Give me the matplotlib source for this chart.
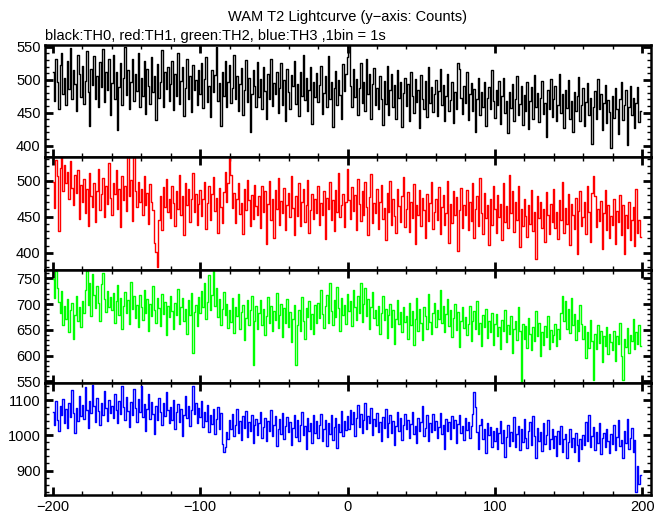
import numpy as np
import matplotlib.pyplot as plt
from matplotlib.ticker import MultipleLocator

plt.rcParams['font.family'] = ['Liberation Sans', 'DejaVu Sans']

# time bins (1 s), -200 .. 199
time = np.arange(-200, 200)

# counts per bin, rows of 20 bins
th0 = [
    512, 468, 531, 497, 455, 522, 540, 478, 503, 461, 529, 486, 548, 470, 515, 493, 452, 537, 509, 474,
    521, 463, 498, 544, 481, 429, 517, 492, 536, 470, 505, 458, 527, 489, 547, 466, 511, 484, 532, 446,
    495, 538, 471, 512, 423, 489, 526, 462, 503, 549, 477, 514, 455, 496, 531, 468, 508, 483, 541, 459,
    502, 475, 529, 448, 517, 490, 463, 535, 481, 506, 439, 524, 472, 497, 545, 458, 511, 486, 520, 467,
    493, 528, 454, 509, 476, 540, 463, 498, 519, 445, 487, 532, 470, 505, 451, 523, 484, 500, 461, 514,
    479, 526, 457, 501, 534, 466, 490, 443, 515, 482, 507, 549, 468, 495, 430, 512, 476, 528, 459, 497,
    522, 464, 488, 537, 471, 506, 452, 493, 518, 447, 485, 530, 466, 502, 420, 479, 514, 491, 458, 527,
    474, 501, 456, 520, 483, 441, 509, 470, 532, 460, 495, 478, 512, 449, 488, 525, 462, 499, 437, 516,
    481, 455, 507, 490, 528, 463, 494, 445, 511, 476, 538, 469, 503, 452, 485, 519, 433, 497, 474, 510,
    466, 492, 521, 448, 480, 505, 459, 536, 471, 496, 428, 487, 513, 462, 499, 477, 441, 524, 483, 508,
    535, 552, 490, 458, 517, 474, 501, 446, 488, 526, 465, 497, 452, 531, 479, 509, 440, 493, 518, 462,
    487, 455, 506, 470, 432, 498, 463, 521, 447, 484, 509, 458, 492, 441, 515, 473, 496, 428, 480, 503,
    460, 494, 437, 512, 476, 449, 501, 466, 485, 426, 507, 471, 455, 498, 443, 520, 464, 489, 451, 478,
    500, 445, 483, 517, 461, 492, 438, 475, 508, 452, 469, 497, 434, 482, 456, 526, 516, 473, 448, 490,
    465, 511, 439, 478, 495, 452, 486, 421, 470, 503, 446, 481, 459, 497, 430, 472, 489, 455, 514, 468,
    442, 485, 461, 498, 433, 476, 503, 450, 468, 419, 482, 457, 494, 438, 471, 506, 447, 463, 490, 431,
    477, 452, 496, 425, 468, 489, 441, 507, 459, 480, 436, 472, 498, 448, 465, 413, 484, 456, 501, 443,
    470, 491, 437, 462, 509, 449, 478, 426, 485, 457, 499, 441, 467, 420, 482, 453, 476, 504, 438, 461,
    488, 429, 466, 495, 447, 472, 403, 458, 483, 440, 501, 456, 478, 424, 464, 492, 435, 469, 451, 396,
    476, 442, 487, 455, 418, 470, 497, 439, 462, 484, 401, 458, 491, 446, 473, 427, 465, 489, 436, 452,
]

th1 = [
    498, 462, 529, 507, 430, 518, 533, 485, 521, 496, 512, 474, 527, 490, 466, 508, 483, 515, 447, 494,
    471, 502, 455, 489, 437, 511, 478, 463, 497, 442, 485, 516, 459, 481, 503, 449, 492, 468, 524, 476,
    453, 497, 482, 515, 461, 488, 436, 506, 473, 493, 458, 533, 479, 501, 444, 532, 486, 464, 498, 471,
    489, 452, 507, 466, 483, 440, 495, 471, 459, 414, 401, 380, 446, 478, 432, 491, 463, 502, 457, 475,
    448, 493, 469, 437, 486, 461, 508, 452, 479, 425, 497, 466, 489, 443, 474, 511, 456, 482, 438, 468,
    487, 451, 474, 498, 433, 469, 492, 446, 481, 505, 458, 476, 427, 490, 463, 441, 484, 512, 470, 496,
    531, 508, 462, 483, 441, 475, 497, 454, 469, 426, 488, 459, 501, 473, 437, 480, 447, 494, 465, 452,
    478, 434, 493, 457, 486, 412, 468, 499, 446, 475, 421, 487, 460, 504, 439, 472, 455, 490, 431, 466,
    483, 449, 507, 462, 424, 478, 451, 496, 437, 470, 489, 443, 466, 501, 428, 459, 482, 447, 474, 455,
    492, 438, 469, 452, 485, 419, 476, 461, 498, 445, 473, 430, 487, 457, 510, 449, 466, 481, 436, 470,
    516, 473, 447, 491, 458, 480, 431, 502, 467, 444, 485, 452, 498, 463, 425, 477, 509, 441, 469, 455,
    488, 433, 471, 494, 447, 462, 418, 483, 456, 500, 439, 474, 451, 428, 489, 465, 443, 478, 505, 436,
    460, 484, 429, 471, 448, 495, 412, 466, 453, 487, 437, 476, 459, 421, 482, 444, 469, 498, 433, 457,
    474, 446, 491, 426, 463, 480, 438, 455, 499, 414, 468, 441, 485, 452, 477, 403, 459, 490, 435, 466,
    452, 487, 431, 470, 444, 496, 420, 461, 478, 437, 503, 455, 426, 483, 448, 466, 411, 474, 439, 492,
    461, 427, 480, 449, 468, 418, 497, 443, 465, 434, 508, 455, 486, 429, 471, 445, 493, 408, 460, 437,
    475, 451, 422, 466, 440, 487, 430, 457, 392, 479, 448, 470, 435, 461, 415, 484, 452, 426, 468, 443,
    489, 434, 456, 419, 473, 445, 498, 428, 462, 440, 481, 411, 467, 452, 433, 476, 398, 458, 485, 437,
    449, 470, 426, 492, 457, 415, 483, 506, 479, 436, 461, 444, 472, 405, 455, 487, 431, 466, 420, 451,
    438, 475, 412, 458, 443, 480, 424, 466, 399, 452, 435, 471, 418, 446, 463, 409, 488, 428, 445, 422,
]

th2 = [
    748, 712, 765, 731, 704, 683, 726, 659, 697, 671, 710, 645, 688, 702, 633, 679, 715, 668, 694, 656,
    706, 682, 728, 764, 699, 741, 676, 758, 717, 692, 735, 702, 668, 739, 761, 709, 684, 726, 695, 713,
    688, 721, 664, 705, 737, 679, 712, 651, 696, 724, 683, 708, 661, 742, 690, 715, 672, 699, 655, 718,
    694, 670, 727, 683, 709, 648, 701, 676, 735, 688, 663, 712, 692, 657, 720, 681, 704, 639, 697, 674,
    716, 686, 652, 703, 678, 729, 661, 695, 711, 668, 690, 642, 707, 679, 722, 604, 685, 699, 658, 713,
    683, 726, 695, 741, 671, 704, 757, 688, 718, 765, 697, 732, 674, 709, 660, 690, 724, 678, 701, 653,
    689, 666, 712, 643, 695, 677, 720, 652, 684, 699, 631, 673, 708, 660, 689, 716, 582, 668, 696, 651,
    682, 707, 659, 691, 640, 676, 714, 664, 697, 648, 687, 670, 722, 653, 679, 701, 636, 692, 663, 709,
    655, 684, 626, 671, 698, 582, 660, 689, 647, 714, 668, 632, 693, 675, 706, 651, 681, 642, 699, 664,
    703, 672, 728, 681, 654, 696, 717, 663, 740, 687, 659, 708, 675, 734, 692, 648, 711, 679, 698, 662,
    719, 686, 705, 658, 727, 694, 670, 715, 683, 741, 665, 700, 732, 677, 709, 651, 695, 724, 672, 688,
    660, 697, 642, 683, 716, 669, 690, 634, 679, 701, 656, 688, 623, 671, 708, 661, 685, 645, 694, 666,
    677, 633, 702, 659, 686, 620, 671, 712, 648, 690, 664, 631, 695, 676, 652, 719, 666, 641, 683, 703,
    655, 689, 671, 727, 663, 697, 645, 680, 710, 658, 688, 636, 672, 701, 649, 685, 617, 668, 694, 653,
    675, 640, 661, 697, 629, 668, 687, 651, 705, 642, 664, 618, 678, 656, 691, 634, 667, 645, 682, 620,
    662, 681, 637, 655, 612, 670, 648, 689, 626, 659, 641, 676, 604, 652, 668, 630, 695, 647, 548, 661,
    633, 657, 615, 672, 641, 610, 655, 628, 686, 637, 664, 599, 645, 621, 658, 636, 676, 613, 649, 627,
    640, 662, 618, 651, 633, 682, 716, 667, 705, 651, 690, 643, 712, 659, 681, 630, 670, 647, 698, 662,
    632, 657, 596, 645, 615, 669, 628, 552, 641, 612, 660, 624, 647, 587, 638, 618, 656, 603, 642, 626,
    611, 648, 590, 637, 622, 663, 599, 553, 633, 617, 654, 605, 640, 628, 671, 612, 646, 623, 659, 618,
]

th3 = [
    1068, 1031, 1097, 1045, 1012, 1083, 1059, 1104, 1036, 1075, 1020, 1091, 1053, 1128, 1064, 1008, 1079, 1042, 1113, 1056,
    1088, 1047, 1139, 1072, 1021, 1097, 1065, 1145, 1083, 1039, 1108, 1070, 1029, 1093, 1058, 1126, 1077, 1041, 1101, 1064,
    1084, 1050, 1117, 1073, 1034, 1099, 1062, 1142, 1081, 1045, 1110, 1069, 1023, 1095, 1057, 1131, 1078, 1038, 1104, 1067,
    1142, 1053, 1089, 1012, 1074, 1119, 1047, 1096, 1061, 1003, 1085, 1043, 1107, 1068, 1029, 1093, 1055, 1124, 1072, 1036,
    1081, 1044, 1102, 1019, 1066, 1090, 1038, 1075, 997, 1058, 1113, 1049, 1084, 1026, 1071, 1141, 1060, 1092, 1035, 1077,
    1052, 1098, 1023, 1067, 1040, 1086, 1011, 1059, 1032, 1074, 1004, 1048, 1081, 1019, 1063, 975, 952, 966, 1009, 990,
    1043, 1017, 1062, 998, 1031, 1075, 1006, 1040, 987, 1054, 1022, 1069, 995, 1037, 1013, 1058, 979, 1029, 1048, 1001,
    1035, 1066, 992, 1024, 1050, 984, 1041, 1012, 1072, 997, 1030, 1055, 969, 1019, 1046, 1004, 1063, 990, 1027, 1052,
    1009, 1038, 974, 1021, 1059, 996, 1043, 985, 1031, 1067, 1002, 1026, 961, 1049, 1014, 1035, 978, 1057, 1007, 1040,
    992, 1029, 1061, 983, 1018, 1045, 971, 1036, 1003, 1058, 988, 1024, 1049, 965, 1032, 1010, 1070, 997, 1042, 1016,
    1055, 1017, 1073, 1032, 1066, 997, 1049, 1086, 1025, 1061, 1008, 1043, 1092, 1019, 1056, 1034, 1078, 1002, 1047, 1028,
    1064, 1011, 1039, 983, 1052, 1021, 1076, 996, 1035, 1058, 1006, 1042, 973, 1026, 1067, 1013, 1049, 988, 1031, 1060,
    1018, 1045, 992, 1033, 1068, 1004, 1027, 979, 1051, 1014, 1039, 1085, 998, 1022, 1057, 985, 1036, 1009, 1062, 1016,
    1041, 993, 1025, 1064, 1003, 1030, 962, 1047, 1012, 1038, 991, 1055, 1020, 1044, 978, 1033, 1059, 1007, 1026, 986,
    1049, 1015, 1037, 994, 1026, 1062, 1124, 1080, 1011, 960, 1031, 1047, 989, 1018, 951, 1036, 1002, 1023, 968, 1014,
    985, 1022, 961, 1008, 1040, 977, 1016, 939, 995, 1030, 969, 1011, 985, 1052, 966, 1003, 1027, 958, 1019, 981,
    1046, 993, 964, 1014, 1038, 972, 1055, 997, 936, 1021, 983, 1009, 955, 1034, 975, 1002, 1043, 961, 991, 1017,
    963, 998, 942, 1012, 976, 1027, 954, 989, 1005, 937, 981, 1019, 966, 994, 952, 1008, 973, 926, 990, 960,
    1001, 972, 1039, 985, 1058, 966, 997, 1024, 958, 1011, 979, 1035, 947, 992, 1006, 968, 1019, 984, 951, 1003,
    975, 1029, 959, 996, 1043, 970, 987, 935, 1012, 979, 1047, 961, 992, 1020, 953, 988, 838, 912, 861, 887,
]

series = [th0, th1, th2, th3]
colors = ['black', '#ff0000', '#00ff00', '#0000ff']
ylims = [(382, 553), (376, 532), (547, 766), (829, 1150)]
ymajor = [50, 50, 50, 100]
yminor = [10, 10, 10, 20]

fig, axes = plt.subplots(4, 1, sharex=True, figsize=(6.69, 5.15), dpi=100)
fig.subplots_adjust(left=0.067, right=0.973, top=0.913, bottom=0.038, hspace=0)

for ax, y, c, yl, ma, mi in zip(axes, series, colors, ylims, ymajor, yminor):
    ax.plot(time, y, color=c, lw=1.0, drawstyle='steps-mid')
    ax.set_xlim(-205.5, 206)
    ax.set_ylim(*yl)
    ax.xaxis.set_major_locator(MultipleLocator(100))
    ax.xaxis.set_minor_locator(MultipleLocator(20))
    ax.yaxis.set_major_locator(MultipleLocator(ma))
    ax.yaxis.set_minor_locator(MultipleLocator(mi))
    ax.tick_params(which='both', direction='in', top=True, right=True, labelsize=10.5, pad=3)
    ax.tick_params(which='major', length=6, width=2)
    ax.tick_params(which='minor', length=3, width=1)
    for s in ax.spines.values():
        s.set_linewidth(1.8)

fig.text(0.52, 0.967, 'WAM T2 Lightcurve (y\u2212axis: Counts)', ha='center', va='center', fontsize=10.5)
fig.text(0.068, 0.930, 'black:TH0, red:TH1, green:TH2, blue:TH3 ,1bin = 1s', ha='left', va='center', fontsize=10.5)

fig.savefig('out.png', dpi=100)
